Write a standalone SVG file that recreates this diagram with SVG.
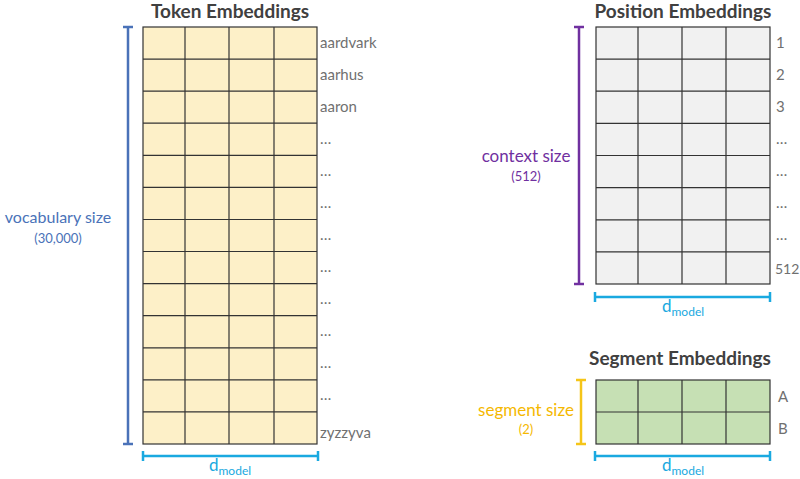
<svg xmlns="http://www.w3.org/2000/svg" width="800" height="479" viewBox="0 0 800 479">
<style>
text{font-family:Lato,"Open Sans",sans-serif}
.t{font-size:19px;font-weight:bold;fill:#404040}
.lb{font-size:15px;fill:#707070}
.g{stroke:#333;stroke-width:1.2}
.c{stroke:#1aa9e0;stroke-width:2.5}
.cl{fill:#1aa9e0}
</style>
<rect width="800" height="479" fill="#fff"/>
<g id="token">
<text class="t" x="230" y="18" text-anchor="middle">Token Embeddings</text>
<rect x="143" y="27" width="174" height="417" fill="#fdf0c8" class="g"/>
<g class="g">
<line x1="185" y1="27" x2="185" y2="444"/><line x1="229" y1="27" x2="229" y2="444"/><line x1="274" y1="27" x2="274" y2="444"/>
<line x1="143" y1="59.1" x2="317" y2="59.1"/><line x1="143" y1="91.2" x2="317" y2="91.2"/><line x1="143" y1="123.2" x2="317" y2="123.2"/><line x1="143" y1="155.3" x2="317" y2="155.3"/><line x1="143" y1="187.4" x2="317" y2="187.4"/><line x1="143" y1="219.5" x2="317" y2="219.5"/><line x1="143" y1="251.5" x2="317" y2="251.5"/><line x1="143" y1="283.6" x2="317" y2="283.6"/><line x1="143" y1="315.7" x2="317" y2="315.7"/><line x1="143" y1="347.8" x2="317" y2="347.8"/><line x1="143" y1="379.8" x2="317" y2="379.8"/><line x1="143" y1="411.9" x2="317" y2="411.9"/>
</g>
<g class="lb">
<text x="320" y="48">aardvark</text><text x="320" y="80">aarhus</text><text x="320" y="112">aaron</text>
<text x="320" y="144">…</text><text x="320" y="176">…</text><text x="320" y="208">…</text><text x="320" y="240">…</text><text x="320" y="272">…</text><text x="320" y="304">…</text><text x="320" y="336">…</text><text x="320" y="368">…</text><text x="320" y="400">…</text>
<text x="320" y="438">zyzzyva</text>
</g>
<g stroke="#4a72b8" stroke-width="2.5"><line x1="128" y1="27" x2="128" y2="444"/><line x1="123" y1="27" x2="133" y2="27"/><line x1="123" y1="444" x2="133" y2="444"/></g>
<text x="58" y="223" text-anchor="middle" font-size="16" fill="#4a72b8">vocabulary size</text>
<text x="58" y="243" text-anchor="middle" font-size="13" fill="#4a72b8">(30,000)</text>
<g class="c"><line x1="143" y1="456" x2="318" y2="456"/><line x1="143" y1="451" x2="143" y2="461"/><line x1="318" y1="451" x2="318" y2="461"/></g>
<text x="230" y="471" text-anchor="middle" class="cl" font-size="17">d<tspan font-size="12" dy="4">model</tspan></text>
</g>
<g id="position">
<text class="t" x="683" y="18" text-anchor="middle">Position Embeddings</text>
<rect x="596" y="27" width="174" height="257" fill="#f1f1f1" class="g"/>
<g class="g">
<line x1="638" y1="27" x2="638" y2="284"/><line x1="682" y1="27" x2="682" y2="284"/><line x1="726" y1="27" x2="726" y2="284"/>
<line x1="596" y1="59.1" x2="770" y2="59.1"/><line x1="596" y1="91.2" x2="770" y2="91.2"/><line x1="596" y1="123.4" x2="770" y2="123.4"/><line x1="596" y1="155.5" x2="770" y2="155.5"/><line x1="596" y1="187.6" x2="770" y2="187.6"/><line x1="596" y1="219.8" x2="770" y2="219.8"/><line x1="596" y1="251.9" x2="770" y2="251.9"/>
</g>
<g class="lb">
<text x="776" y="48">1</text><text x="776" y="80">2</text><text x="776" y="112">3</text><text x="776" y="144">…</text><text x="776" y="176">…</text><text x="776" y="208">…</text><text x="776" y="240">…</text><text x="775" y="274" font-size="14">512</text>
</g>
<g stroke="#7030a0" stroke-width="2.5"><line x1="579" y1="27" x2="579" y2="284"/><line x1="574" y1="27" x2="584" y2="27"/><line x1="574" y1="284" x2="584" y2="284"/></g>
<text x="526" y="162" text-anchor="middle" font-size="17" fill="#7030a0">context size</text>
<text x="526" y="181" text-anchor="middle" font-size="13" fill="#7030a0">(512)</text>
<g class="c"><line x1="595" y1="297" x2="770" y2="297"/><line x1="595" y1="292" x2="595" y2="302"/><line x1="770" y1="292" x2="770" y2="302"/></g>
<text x="683" y="312" text-anchor="middle" class="cl" font-size="17">d<tspan font-size="12" dy="4">model</tspan></text>
</g>
<g id="segment">
<text class="t" x="680" y="365" text-anchor="middle">Segment Embeddings</text>
<rect x="596" y="380" width="174" height="64" fill="#c6e0b4" class="g"/>
<g class="g"><line x1="638" y1="380" x2="638" y2="444"/><line x1="682" y1="380" x2="682" y2="444"/><line x1="726" y1="380" x2="726" y2="444"/><line x1="596" y1="412" x2="770" y2="412"/></g>
<g class="lb"><text x="778" y="402">A</text><text x="778" y="434">B</text></g>
<g stroke="#f5c518" stroke-width="2.5"><line x1="581" y1="380" x2="581" y2="444"/><line x1="576" y1="380" x2="586" y2="380"/><line x1="576" y1="444" x2="586" y2="444"/></g>
<text x="526" y="416" text-anchor="middle" font-size="17" fill="#f5b800">segment size</text>
<text x="526" y="434" text-anchor="middle" font-size="13" fill="#f5b800">(2)</text>
<g class="c"><line x1="595" y1="456" x2="770" y2="456"/><line x1="595" y1="451" x2="595" y2="461"/><line x1="770" y1="451" x2="770" y2="461"/></g>
<text x="683" y="471" text-anchor="middle" class="cl" font-size="17">d<tspan font-size="12" dy="4">model</tspan></text>
</g>
</svg>
